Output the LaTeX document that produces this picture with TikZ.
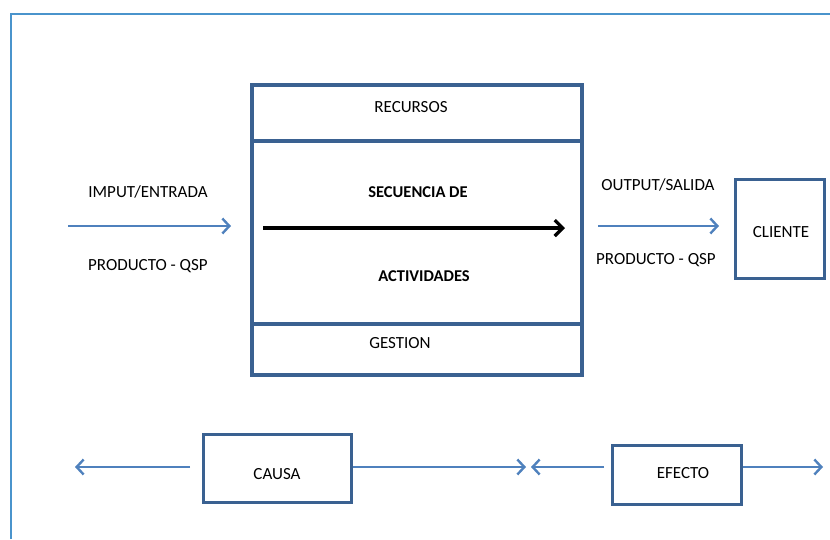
\documentclass[tikz,border=0pt]{standalone}
\usepackage{fontspec}
\setmainfont{Carlito}
\usetikzlibrary{arrows.meta}
\definecolor{boxblue}{HTML}{3A6191}
\definecolor{arrowblue}{HTML}{4F81BD}
\definecolor{frameblue}{HTML}{4A94CC}
\tikzset{
  boxline/.style={draw=boxblue, line width=3.5pt},
  flow/.style={draw=arrowblue, line width=2.4pt, -{Straight Barb[length=7pt,width=15pt,line width=2.4pt]}},
  blackflow/.style={draw=black, line width=3.2pt, -{Straight Barb[length=8pt,width=16pt,line width=3.2pt]}},
  lbl/.style={font=\fontsize{17}{20}\selectfont, inner sep=0pt},
  blbl/.style={font=\fontsize{16.5}{20}\selectfont\bfseries, inner sep=0pt},
}
\begin{document}
\begin{tikzpicture}[x=1pt,y=-1pt]
\useasboundingbox (0,0) rectangle (830,539);
% frame
\draw[frameblue, line width=1.6pt] (11,539) -- (11,14) -- (830,14);
% main process box
\draw[boxline] (252,85) rectangle (582,375);
\draw[boxline] (252,141) -- (582,141);
\draw[boxline] (252,324) -- (582,324);
\node[lbl] (recursos) at (411,107) {RECURSOS};
\node[blbl] (sec) at (418,192) {SECUENCIA DE};
\node[blbl] (act) at (424,276) {ACTIVIDADES};
\node[lbl] (gestion) at (400,343) {GESTION};
\coordinate (ba) at (263,228);
\coordinate (bb) at (565,228);
\draw[blackflow] (ba) -- (bb);
% input
\coordinate (ina) at (68,226);
\coordinate (inb) at (231,226);
\draw[flow] (ina) -- (inb);
\node[lbl] (imput) at (148,192) {IMPUT/ENTRADA};
\node[lbl] (prod1) at (148,266) {PRODUCTO - QSP};
% output
\node[boxline, minimum width=89pt, minimum height=99pt, inner sep=0pt] (cliente) at (780,229) {};
\node[lbl] at (781,232) {CLIENTE};
\coordinate (outa) at (598,226);
\coordinate (outb) at (719,226);
\draw[flow] (outa) -- (outb);
\node[lbl] (output) at (658,185) {OUTPUT/SALIDA};
\node[lbl] (prod2) at (656,260) {PRODUCTO - QSP};
% causa / efecto
\node[boxline, minimum width=148pt, minimum height=68pt, inner sep=0pt] (causa) at (277.5,468.5) {};
\node[lbl] at (277,474) {CAUSA};
\node[boxline, minimum width=129pt, minimum height=59pt, inner sep=0pt] (efecto) at (677,475) {};
\node[lbl] at (683,473) {EFECTO};
\coordinate (cl) at (190,467);
\coordinate (cle) at (75,467);
\draw[flow] (cl) -- (cle);
\coordinate (cre) at (526,467);
\draw[flow] (causa.east |- cl) -- (cre);
\coordinate (el) at (604,467);
\coordinate (ele) at (531,467);
\draw[flow] (el) -- (ele);
\coordinate (ere) at (823,467);
\draw[flow] (efecto.east |- el) -- (ere);
\end{tikzpicture}
\end{document}
